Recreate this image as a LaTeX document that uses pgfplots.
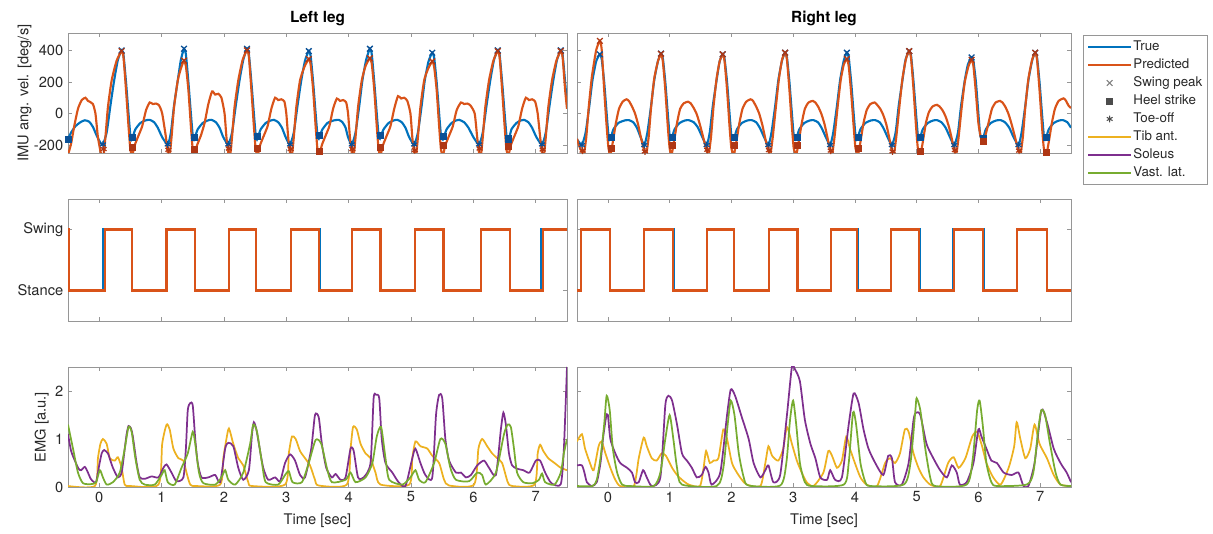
\documentclass[border=0pt]{standalone}
\usepackage{fontspec}
\setmainfont{TeX Gyre Heros}
\usepackage{pgfplots}
\pgfplotsset{compat=1.18}
\definecolor{cTrue}{RGB}{0,114,189}
\definecolor{cPred}{RGB}{217,83,25}
\definecolor{cTib}{RGB}{237,177,32}
\definecolor{cSol}{RGB}{126,47,142}
\definecolor{cVas}{RGB}{119,172,48}
\definecolor{mTrue}{RGB}{10,80,150}
\definecolor{mPred}{RGB}{175,55,20}
\definecolor{frame}{RGB}{150,150,150}
\definecolor{txt}{RGB}{40,40,40}
\pgfplotsset{
  panel/.style={
    scale only axis, anchor=south west,
    xmin=-0.5, xmax=7.5, xtick={0,...,7},
    axis line style={frame, line width=0.5pt},
    tick style={frame, line width=0.5pt},
    major tick length=3pt,
    tick align=inside,
    ticklabel style={font=\fontsize{11}{13}\selectfont, text=txt},
    label style={font=\fontsize{11}{13}\selectfont, text=txt},
    xlabel style={yshift=-2pt},
    title style={font=\fontsize{11.5}{13}\selectfont\bfseries, text=black, yshift=-4pt},
    /pgf/number format/assume math mode=true,
  },
  tline/.style={cTrue, line width=1.6pt, smooth, tension=0.35, forget plot},
  pline/.style={cPred, line width=1.6pt, smooth, tension=0.35, forget plot},
  sline/.style={line width=1.6pt, const plot, forget plot},
  eline/.style={line width=1.3pt, smooth, tension=0.4, forget plot},
  mx/.style={only marks, mark=x, mark size=3pt, mark options={line width=1pt}, forget plot},
  msq/.style={only marks, mark=square*, mark size=2.3pt, forget plot},
  mst/.style={only marks, mark=asterisk, mark size=2.6pt, mark options={line width=0.9pt}, forget plot},
}
\begin{document}
\begin{tikzpicture}
\useasboundingbox (0,0) rectangle (909.75pt,400.5pt);
% ---------------- top left
\begin{axis}[panel, at={(51pt,285.75pt)}, width=374.25pt, height=90pt,
  ymin=-250, ymax=510, ytick={-200,0,200,400}, xticklabels={},
  ylabel={IMU ang. vel. [deg/s]}, ylabel style={at={(ticklabel cs:0.5,-5pt)}}, title={Left leg}]
\addplot[tline] coordinates {
(-0.5,-162) (-0.45,-120) (-0.38,-80) (-0.30,-55) (-0.23,-43) (-0.16,-52) (-0.10,-85) (-0.04,-140) (0.02,-185) (0.06,-196)
(0.12,-120) (0.18,50) (0.24,210) (0.30,340) (0.36,400) (0.39,370) (0.43,200) (0.47,0) (0.50,-140) (0.52,-165) (0.54,-145) (0.58,-100) (0.66,-60) (0.74,-44) (0.81,-40) (0.88,-55) (0.94,-90) (1.01,-150) (1.10,-196)
(1.15,-120) (1.20,50) (1.26,210) (1.31,340) (1.36,410) (1.39,375) (1.43,200) (1.47,0) (1.50,-140) (1.52,-165) (1.54,-145) (1.58,-100) (1.66,-60) (1.74,-44) (1.80,-40) (1.87,-55) (1.93,-90) (1.99,-150) (2.07,-196)
(2.13,-120) (2.19,50) (2.25,210) (2.31,340) (2.37,410) (2.40,375) (2.44,200) (2.48,0) (2.51,-140) (2.53,-165) (2.55,-145) (2.59,-100) (2.67,-60) (2.75,-44) (2.80,-40) (2.87,-55) (2.93,-90) (2.99,-150) (3.06,-196)
(3.12,-120) (3.18,50) (3.24,210) (3.30,335) (3.36,395) (3.39,365) (3.43,200) (3.47,0) (3.50,-140) (3.52,-160) (3.54,-138) (3.58,-100) (3.66,-60) (3.76,-44) (3.84,-40) (3.90,-55) (3.95,-90) (3.99,-150) (4.05,-196)
(4.11,-120) (4.17,50) (4.22,210) (4.28,340) (4.34,410) (4.37,375) (4.41,200) (4.45,0) (4.48,-140) (4.50,-160) (4.52,-138) (4.56,-100) (4.64,-60) (4.72,-44) (4.78,-40) (4.85,-55) (4.91,-90) (4.97,-150) (5.05,-196)
(5.11,-120) (5.17,50) (5.22,210) (5.28,330) (5.34,385) (5.37,355) (5.41,200) (5.45,0) (5.48,-140) (5.51,-165) (5.53,-145) (5.57,-100) (5.65,-60) (5.72,-44) (5.77,-40) (5.85,-55) (5.92,-90) (6.00,-150) (6.09,-196)
(6.15,-120) (6.21,50) (6.27,210) (6.33,340) (6.39,400) (6.42,370) (6.46,200) (6.50,0) (6.53,-140) (6.55,-165) (6.57,-160) (6.61,-100) (6.69,-60) (6.76,-44) (6.81,-40) (6.88,-55) (6.94,-90) (7.01,-150) (7.10,-196)
(7.16,-120) (7.22,50) (7.28,210) (7.34,340) (7.40,400) (7.43,370) (7.47,200) (7.50,60)
};
\addplot[pline] coordinates {
(-0.5,-262) (-0.45,-190) (-0.40,-80) (-0.34,30) (-0.28,85) (-0.22,100) (-0.18,80) (-0.14,72) (-0.10,60) (-0.06,0) (-0.02,-150) (0.03,-255) (0.07,-265) (0.10,-150) (0.14,40) (0.20,210) (0.28,335) (0.36,395)
(0.39,355) (0.43,150) (0.47,-80) (0.50,-230) (0.53,-265) (0.57,-200) (0.63,-140) (0.69,-80) (0.75,20) (0.81,70) (0.86,60) (0.91,63) (0.96,52) (1.01,0) (1.07,-150) (1.10,-250) (1.13,-265) (1.16,-150) (1.20,40) (1.26,210) (1.31,285) (1.36,335)
(1.39,300) (1.43,150) (1.47,-80) (1.50,-230) (1.53,-265) (1.57,-200) (1.63,-140) (1.69,-60) (1.75,60) (1.81,140) (1.86,120) (1.91,125) (1.96,100) (2.01,0) (2.04,-150) (2.07,-250) (2.10,-265) (2.13,-150) (2.17,40) (2.23,210) (2.30,340) (2.37,400)
(2.40,360) (2.44,150) (2.48,-80) (2.51,-230) (2.54,-265) (2.58,-200) (2.64,-140) (2.70,-80) (2.76,30) (2.82,100) (2.87,85) (2.92,90) (2.97,75) (3.00,0) (3.03,-150) (3.06,-250) (3.09,-265) (3.12,-150) (3.16,40) (3.22,210) (3.29,295) (3.36,345)
(3.39,310) (3.43,150) (3.47,-80) (3.50,-230) (3.53,-265) (3.57,-200) (3.63,-140) (3.69,-80) (3.75,30) (3.81,95) (3.86,80) (3.91,85) (3.96,70) (3.99,0) (4.02,-150) (4.05,-250) (4.08,-265) (4.11,-150) (4.15,40) (4.21,210) (4.27,300) (4.34,350)
(4.37,315) (4.41,150) (4.45,-80) (4.48,-230) (4.51,-265) (4.55,-200) (4.61,-140) (4.67,-80) (4.73,30) (4.79,110) (4.84,95) (4.89,100) (4.94,80) (4.99,0) (5.02,-150) (5.05,-250) (5.08,-265) (5.11,-150) (5.15,40) (5.21,210) (5.27,280) (5.34,330)
(5.37,295) (5.41,150) (5.45,-80) (5.48,-230) (5.51,-265) (5.55,-200) (5.61,-140) (5.67,-80) (5.73,20) (5.80,70) (5.85,60) (5.90,63) (5.95,52) (6.02,0) (6.06,-150) (6.09,-250) (6.12,-265) (6.15,-150) (6.19,40) (6.25,210) (6.32,335) (6.39,395)
(6.42,355) (6.46,150) (6.50,-80) (6.53,-230) (6.56,-265) (6.60,-200) (6.66,-140) (6.72,-80) (6.78,30) (6.84,100) (6.89,85) (6.94,90) (6.99,75) (7.03,0) (7.07,-150) (7.10,-250) (7.13,-265) (7.16,-150) (7.20,40) (7.26,210) (7.33,335) (7.40,395)
(7.43,355) (7.47,150) (7.50,30)
};
\addplot[mx, mTrue] coordinates {(0.36,400) (1.36,410) (2.37,410) (3.36,395) (4.34,410) (5.34,385) (6.39,400) (7.40,400)};
\addplot[mx, mPred] coordinates {(0.36,395) (1.36,335) (2.37,400) (3.36,345) (4.34,350) (5.34,330) (6.39,395) (7.40,395)};
\addplot[msq, mTrue] coordinates {(-0.49,-162) (0.53,-150) (1.53,-150) (2.54,-145) (3.53,-138) (4.51,-140) (5.52,-145) (6.56,-160)};
\addplot[msq, mPred] coordinates {(0.53,-212) (1.53,-228) (2.54,-218) (3.53,-240) (4.51,-215) (5.52,-202) (6.56,-207)};
\addplot[mst, mTrue] coordinates {(0.06,-196) (1.10,-196) (2.07,-196) (3.06,-196) (4.05,-196) (5.05,-196) (6.09,-196) (7.10,-196)};
\addplot[mst, mPred] coordinates {(0.07,-225) (1.11,-230) (2.08,-222) (3.07,-225) (4.06,-225) (5.06,-232) (6.10,-222) (7.11,-228)};
\end{axis}
% ---------------- top right
\begin{axis}[panel, at={(432.75pt,285.75pt)}, width=370.5pt, height=90pt,
  ymin=-250, ymax=510, ytick={-200,0,200,400}, xticklabels={}, yticklabels={},
  title={Right leg},
  legend style={at={(1.0243,0.983)}, anchor=north west, draw=frame, fill=white,
    font=\fontsize{10}{12}\selectfont, text=txt, cells={anchor=west},
    nodes={inner sep=1pt, text height=7.5pt, text depth=2pt},
    row sep=2pt, inner xsep=3pt, inner ysep=3pt},
  legend image code/.code={\draw[mark repeat=2,mark phase=2,#1] plot coordinates {(0pt,0pt) (16pt,0pt) (32pt,0pt)};}]
\addplot[tline] coordinates {
(-0.5,-164) (-0.46,-185) (-0.42,-200)
(-0.36,-120) (-0.30,50) (-0.25,210) (-0.19,330) (-0.13,375) (-0.10,345) (-0.06,200) (-0.02,0) (0.01,-140) (0.03,-165) (0.05,-150) (0.09,-100) (0.17,-60) (0.27,-44) (0.34,-42) (0.41,-55) (0.47,-90) (0.53,-150) (0.59,-200)
(0.64,-120) (0.70,50) (0.75,210) (0.81,330) (0.86,380) (0.89,350) (0.93,200) (0.97,0) (1.00,-140) (1.02,-165) (1.04,-150) (1.08,-100) (1.16,-60) (1.25,-44) (1.31,-42) (1.39,-55) (1.46,-90) (1.53,-150) (1.60,-200)
(1.65,-120) (1.70,50) (1.76,210) (1.81,330) (1.86,375) (1.89,345) (1.93,200) (1.97,0) (2.00,-140) (2.03,-165) (2.05,-150) (2.09,-100) (2.17,-60) (2.26,-44) (2.33,-42) (2.40,-55) (2.46,-90) (2.53,-150) (2.60,-200)
(2.65,-120) (2.71,50) (2.76,210) (2.82,335) (2.87,385) (2.90,355) (2.94,200) (2.98,0) (3.01,-140) (3.04,-165) (3.06,-150) (3.10,-100) (3.18,-60) (3.27,-44) (3.33,-42) (3.40,-55) (3.46,-90) (3.53,-150) (3.60,-200)
(3.65,-120) (3.71,50) (3.76,210) (3.82,335) (3.87,385) (3.90,355) (3.94,200) (3.98,0) (4.01,-140) (4.03,-165) (4.05,-150) (4.09,-100) (4.17,-60) (4.26,-44) (4.33,-42) (4.40,-55) (4.46,-90) (4.53,-150) (4.60,-200)
(4.66,-120) (4.71,50) (4.77,210) (4.82,340) (4.88,395) (4.91,365) (4.95,200) (4.99,0) (5.02,-140) (5.04,-165) (5.06,-150) (5.10,-100) (5.18,-60) (5.27,-44) (5.33,-42) (5.40,-55) (5.47,-90) (5.54,-150) (5.61,-200)
(5.67,-120) (5.72,50) (5.78,210) (5.83,310) (5.89,355) (5.92,330) (5.96,200) (6.00,0) (6.03,-140) (6.06,-165) (6.08,-155) (6.12,-100) (6.20,-60) (6.29,-44) (6.36,-42) (6.43,-55) (6.50,-90) (6.57,-150) (6.65,-200)
(6.70,-120) (6.76,50) (6.81,210) (6.87,335) (6.92,385) (6.95,355) (6.99,200) (7.03,0) (7.06,-140) (7.08,-165) (7.10,-150) (7.14,-100) (7.22,-60) (7.31,-44) (7.37,-42) (7.44,-55) (7.50,-90)
};
\addplot[pline] coordinates {
(-0.5,-160) (-0.46,-210) (-0.42,-245) (-0.39,-262) (-0.35,-150) (-0.31,40) (-0.26,230) (-0.19,400) (-0.13,460) (-0.10,405) (-0.06,150) (-0.02,-80) (0.01,-220) (0.04,-262) (0.08,-180) (0.13,-60) (0.18,30) (0.24,75) (0.30,90) (0.34,80) (0.39,45) (0.44,0) (0.49,-70) (0.54,-160) (0.59,-240)
(0.62,-262) (0.66,-150) (0.70,40) (0.75,220) (0.81,330) (0.86,375) (0.89,330) (0.93,150) (0.97,-80) (1.00,-220) (1.03,-262) (1.07,-180) (1.12,-60) (1.17,30) (1.23,65) (1.30,75) (1.34,65) (1.39,35) (1.44,-5) (1.49,-70) (1.55,-160) (1.60,-240)
(1.63,-262) (1.67,-150) (1.71,40) (1.76,220) (1.81,330) (1.86,375) (1.89,330) (1.93,150) (1.97,-80) (2.00,-220) (2.04,-262) (2.08,-180) (2.13,-60) (2.18,30) (2.24,75) (2.31,90) (2.35,80) (2.40,45) (2.45,0) (2.50,-70) (2.55,-160) (2.60,-240)
(2.63,-262) (2.67,-150) (2.72,40) (2.77,220) (2.82,340) (2.87,385) (2.90,340) (2.94,150) (2.98,-80) (3.01,-220) (3.05,-262) (3.09,-180) (3.14,-60) (3.19,30) (3.25,70) (3.32,80) (3.36,70) (3.41,40) (3.46,-5) (3.51,-70) (3.56,-160) (3.60,-240)
(3.63,-262) (3.67,-150) (3.72,40) (3.77,210) (3.82,310) (3.87,345) (3.90,300) (3.94,130) (3.98,-80) (4.01,-220) (4.05,-262) (4.09,-180) (4.14,-60) (4.19,20) (4.25,60) (4.32,70) (4.36,55) (4.41,30) (4.46,-10) (4.51,-70) (4.56,-160) (4.60,-240)
(4.63,-262) (4.67,-150) (4.72,40) (4.77,220) (4.83,350) (4.88,395) (4.91,350) (4.95,150) (4.99,-80) (5.02,-220) (5.06,-262) (5.10,-180) (5.15,-60) (5.20,10) (5.26,45) (5.33,55) (5.37,45) (5.42,20) (5.47,-20) (5.52,-80) (5.57,-160) (5.61,-240)
(5.64,-262) (5.68,-150) (5.73,40) (5.78,200) (5.84,300) (5.89,340) (5.92,300) (5.96,130) (6.00,-60) (6.04,-150) (6.08,-170) (6.12,-130) (6.17,-50) (6.22,30) (6.28,70) (6.35,80) (6.39,70) (6.44,40) (6.49,-5) (6.54,-70) (6.60,-160) (6.65,-240)
(6.68,-262) (6.72,-150) (6.76,40) (6.81,220) (6.87,340) (6.92,385) (6.95,340) (6.99,150) (7.03,-80) (7.06,-220) (7.10,-262) (7.14,-180) (7.19,-60) (7.24,30) (7.30,80) (7.38,96) (7.42,80) (7.46,50) (7.50,35)
};
\addplot[mx, mTrue] coordinates {(-0.13,375) (0.86,380) (1.86,375) (2.87,385) (3.87,385) (4.88,395) (5.89,355) (6.92,385)};
\addplot[mx, mPred] coordinates {(-0.13,460) (0.86,378) (1.86,375) (2.87,385) (3.87,345) (4.88,395) (5.89,340) (6.92,385)};
\addplot[msq, mTrue] coordinates {(0.05,-150) (1.04,-150) (2.05,-150) (3.06,-150) (4.05,-150) (5.06,-150) (6.08,-155) (7.10,-150)};
\addplot[msq, mPred] coordinates {(0.05,-220) (1.04,-200) (2.05,-200) (3.06,-200) (4.05,-220) (5.06,-240) (6.08,-175) (7.10,-245)};
\addplot[mst, mTrue] coordinates {(-0.42,-200) (0.59,-200) (1.60,-200) (2.60,-200) (3.60,-200) (4.60,-200) (5.61,-200) (6.65,-200)};
\addplot[mst, mPred] coordinates {(-0.41,-235) (0.60,-240) (1.61,-230) (2.61,-232) (3.61,-235) (4.61,-240) (5.62,-232) (6.66,-235)};
\addlegendimage{cTrue, line width=1.6pt}
\addlegendentry{True}
\addlegendimage{cPred, line width=1.6pt}
\addlegendentry{Predicted}
\addlegendimage{only marks, mark=x, mark size=3pt, black!50, mark options={line width=0.8pt}}
\addlegendentry{Swing peak}
\addlegendimage{only marks, mark=square*, mark size=2.2pt, black!70}
\addlegendentry{Heel strike}
\addlegendimage{only marks, mark=asterisk, mark size=2.5pt, black!70, mark options={line width=0.8pt}}
\addlegendentry{Toe-off}
\addlegendimage{cTib, line width=1.6pt}
\addlegendentry{Tib ant.}
\addlegendimage{cSol, line width=1.6pt}
\addlegendentry{Soleus}
\addlegendimage{cVas, line width=1.6pt}
\addlegendentry{Vast. lat.}
\end{axis}
% ---------------- middle left
\begin{axis}[panel, at={(51pt,159.75pt)}, width=374.25pt, height=91.5pt,
  ymin=-0.5, ymax=1.5, ytick={0,1}, yticklabels={Stance,Swing}, xticklabels={}]
\addplot[sline, cTrue] coordinates {(-0.5,0) (0.065,1) (0.53,0) (1.08,1) (1.53,0) (2.08,1) (2.52,0) (3.08,1) (3.545,0) (4.06,1) (4.51,0) (5.07,1) (5.52,0) (6.12,1) (6.58,0) (7.09,1) (7.5,1)};
\addplot[sline, cPred] coordinates {(-0.5,1) (-0.49,0) (0.10,1) (0.53,0) (1.08,1) (1.53,0) (2.08,1) (2.52,0) (3.08,1) (3.52,0) (4.06,1) (4.51,0) (5.07,1) (5.52,0) (6.12,1) (6.58,0) (7.11,1) (7.5,1)};
\end{axis}
% ---------------- middle right
\begin{axis}[panel, at={(432.75pt,159.75pt)}, width=370.5pt, height=91.5pt,
  ymin=-0.5, ymax=1.5, ytick={0,1}, yticklabels={}, xticklabels={}]
\addplot[sline, cTrue] coordinates {(-0.5,0) (-0.435,1) (0.04,0) (0.58,1) (1.062,0) (1.61,1) (2.04,0) (2.61,1) (3.085,0) (3.61,1) (4.055,0) (4.59,1) (5.055,0) (5.59,1) (6.095,0) (6.62,1) (7.11,0) (7.5,0)};
\addplot[sline, cPred] coordinates {(-0.5,0) (-0.435,1) (0.04,0) (0.58,1) (1.05,0) (1.61,1) (2.04,0) (2.61,1) (3.07,0) (3.61,1) (4.04,0) (4.59,1) (5.04,0) (5.60,1) (6.08,0) (6.62,1) (7.11,0) (7.5,0)};
\end{axis}
% ---------------- bottom left
\begin{axis}[panel, at={(51pt,35.25pt)}, width=374.25pt, height=90pt,
  ymin=0, ymax=2.5, ytick={0,1,2}, xlabel={Time [sec]}, ylabel={EMG [a.u.]}, ylabel style={at={(ticklabel cs:0.5,-2pt)}}]
\addplot[eline, cTib] coordinates {
(-0.5,0.02) (-0.07,0.02) (-0.02,0.6) (0.02,0.9) (0.06,1.0) (0.12,0.9) (0.17,0.6) (0.25,0.55) (0.3,0.62) (0.36,0.4) (0.41,0.05) (0.5,0.02) (0.95,0.05)
(1.01,0.9) (1.08,1.3) (1.13,1.2) (1.19,0.8) (1.27,0.6) (1.35,0.55) (1.4,0.3) (1.46,0.05) (1.55,0.02) (1.94,0.05)
(1.99,0.6) (2.04,1.0) (2.08,1.22) (2.15,0.9) (2.23,0.6) (2.31,0.45) (2.39,0.1) (2.45,0.02) (2.98,0.05)
(3.04,0.7) (3.09,1.05) (3.15,1.0) (3.22,0.75) (3.3,0.6) (3.38,0.45) (3.46,0.15) (3.52,0.03) (3.97,0.05)
(4.03,0.8) (4.07,1.25) (4.13,1.2) (4.19,0.9) (4.27,0.7) (4.35,0.6) (4.43,0.3) (4.51,0.05) (4.97,0.05)
(5.02,0.6) (5.07,0.95) (5.15,0.85) (5.26,0.8) (5.34,0.65) (5.45,0.5) (5.53,0.15) (5.61,0.03) (6.01,0.05)
(6.08,0.8) (6.14,1.0) (6.22,0.85) (6.3,0.7) (6.38,0.6) (6.46,0.5) (6.55,0.1) (6.62,0.02) (6.98,0.05)
(7.03,0.7) (7.07,0.88) (7.12,0.75) (7.2,0.6) (7.3,0.5) (7.4,0.4) (7.5,0.35)
};
\addplot[eline, cSol] coordinates {
(-0.5,1.1) (-0.45,0.75) (-0.39,0.55) (-0.33,0.38) (-0.29,0.35) (-0.23,0.42) (-0.18,0.3) (-0.14,0.18) (-0.1,0.12) (-0.05,0.1) (0.0,0.45) (0.04,0.7) (0.08,0.77) (0.14,0.7) (0.18,0.55) (0.22,0.4) (0.3,0.2) (0.36,0.3) (0.41,0.8) (0.44,1.1) (0.47,1.27) (0.51,1.22) (0.54,1.05) (0.6,0.5) (0.65,0.2) (0.73,0.17) (0.84,0.22) (0.95,0.2)
(1.03,0.4) (1.08,0.47) (1.16,0.3) (1.24,0.12) (1.35,0.2) (1.39,0.8) (1.42,1.6) (1.46,1.75) (1.5,1.7) (1.54,1.0) (1.58,0.5) (1.64,0.2) (1.75,0.2) (1.86,0.25) (1.94,0.1)
(2.02,0.8) (2.07,0.92) (2.15,0.85) (2.23,0.4) (2.31,0.15) (2.4,0.35) (2.45,1.1) (2.48,1.35) (2.52,1.2) (2.56,0.9) (2.63,0.4) (2.71,0.15) (2.82,0.2) (2.9,0.12)
(2.98,0.5) (3.06,0.68) (3.14,0.55) (3.22,0.25) (3.3,0.2) (3.4,0.8) (3.46,1.5) (3.52,1.45) (3.57,0.9) (3.64,0.4) (3.73,0.2) (3.79,0.27) (3.87,0.15) (3.95,0.2)
(4.03,0.8) (4.08,0.75) (4.15,0.2) (4.24,0.2) (4.35,0.5) (4.4,1.85) (4.44,1.92) (4.49,1.85) (4.53,1.0) (4.59,0.5) (4.7,0.3) (4.8,0.1) (4.91,0.02)
(5.02,0.6) (5.07,0.8) (5.15,0.5) (5.23,0.25) (5.34,0.2) (5.4,1.5) (5.45,1.92) (5.5,1.85) (5.55,1.0) (5.61,0.55) (5.72,0.3) (5.8,0.3) (5.88,0.2) (5.96,0.25)
(6.06,0.45) (6.17,0.55) (6.25,0.4) (6.36,0.25) (6.44,1.2) (6.48,1.55) (6.52,1.3) (6.57,0.7) (6.62,0.45) (6.7,0.38) (6.8,0.35) (6.9,0.3)
(7.0,0.55) (7.07,0.55) (7.15,0.3) (7.25,0.08) (7.4,0.06) (7.45,0.8) (7.5,2.5)
};
\addplot[eline, cVas] coordinates {
(-0.5,1.3) (-0.42,0.8) (-0.34,0.3) (-0.26,0.08) (-0.13,0.06) (-0.05,0.1) (0.01,0.35) (0.06,0.2) (0.12,0.05) (0.22,0.1) (0.33,0.3) (0.41,0.8) (0.47,1.25) (0.52,1.15) (0.58,0.6) (0.65,0.15) (0.73,0.05) (0.89,0.05)
(1.0,0.25) (1.05,0.35) (1.1,0.1) (1.21,0.05) (1.32,0.4) (1.42,0.7) (1.5,1.15) (1.54,0.9) (1.6,0.3) (1.67,0.08) (1.86,0.05)
(1.96,0.2) (2.02,0.35) (2.07,0.15) (2.18,0.05) (2.31,0.3) (2.42,0.9) (2.47,1.3) (2.53,1.15) (2.61,0.5) (2.67,0.1) (2.87,0.05)
(2.98,0.25) (3.04,0.33) (3.1,0.1) (3.25,0.1) (3.36,0.5) (3.47,0.98) (3.56,0.9) (3.65,0.4) (3.73,0.1) (3.95,0.15)
(4.03,0.3) (4.11,0.1) (4.27,0.2) (4.38,0.5) (4.45,1.05) (4.52,1.25) (4.59,0.6) (4.65,0.15) (4.86,0.05)
(4.99,0.2) (5.07,0.35) (5.13,0.15) (5.23,0.1) (5.37,0.5) (5.47,1.0) (5.55,0.9) (5.63,0.4) (5.72,0.15) (5.93,0.12)
(6.06,0.3) (6.14,0.25) (6.2,0.05) (6.36,0.3) (6.49,1.1) (6.55,1.3) (6.6,1.25) (6.65,0.8) (6.7,0.3) (6.8,0.1) (6.95,0.08)
(7.05,0.15) (7.1,0.28) (7.15,0.1) (7.3,0.05) (7.4,0.3) (7.45,0.7) (7.5,1.0)
};
\end{axis}
% ---------------- bottom right
\begin{axis}[panel, at={(432.75pt,35.25pt)}, width=370.5pt, height=90pt,
  ymin=0, ymax=2.5, ytick={0,1,2}, yticklabels={}, xlabel={Time [sec]}]
\addplot[eline, cTib] coordinates {
(-0.5,0.95) (-0.42,1.1) (-0.37,0.8) (-0.29,0.5) (-0.23,0.35) (-0.15,0.85) (-0.1,0.95) (-0.04,0.7) (0.04,0.4) (0.12,0.15) (0.2,0.02) (0.42,0.02)
(0.5,0.6) (0.58,1.03) (0.63,0.85) (0.71,0.6) (0.79,0.55) (0.87,0.7) (0.94,0.65) (1.04,0.4) (1.12,0.25) (1.2,0.15) (1.31,0.05) (1.49,0.02)
(1.55,0.4) (1.59,0.75) (1.65,0.5) (1.71,0.55) (1.79,0.6) (1.87,1.2) (1.93,1.0) (2.01,0.5) (2.09,0.3) (2.17,0.15) (2.25,0.05) (2.47,0.02)
(2.55,0.5) (2.6,0.85) (2.66,0.65) (2.76,0.55) (2.84,0.8) (2.9,1.25) (2.98,0.9) (3.06,0.55) (3.14,0.3) (3.22,0.1) (3.33,0.02)
(3.49,0.3) (3.57,0.75) (3.63,0.65) (3.71,0.4) (3.79,0.55) (3.86,1.05) (3.92,0.8) (4.0,0.5) (4.09,0.2) (4.19,0.05) (4.36,0.02)
(4.49,0.5) (4.57,0.6) (4.65,0.5) (4.73,0.7) (4.81,1.2) (4.87,1.15) (4.95,0.7) (5.03,0.4) (5.11,0.2) (5.22,0.05) (5.38,0.02)
(5.51,0.5) (5.6,0.62) (5.68,0.4) (5.79,0.6) (5.9,1.05) (5.98,1.15) (6.06,0.85) (6.13,0.5) (6.24,0.2) (6.36,0.05)
(6.49,0.4) (6.58,0.85) (6.62,1.35) (6.68,1.0) (6.76,0.6) (6.84,0.8) (6.91,1.3) (6.99,0.9) (7.11,0.6) (7.22,0.25) (7.33,0.05) (7.5,0.02)
};
\addplot[eline, cSol] coordinates {
(-0.5,0.45) (-0.42,0.45) (-0.38,0.3) (-0.34,0.1) (-0.26,0.02) (-0.18,0.1) (-0.12,0.5) (-0.08,1.0) (-0.03,1.45) (0.0,1.5) (0.04,1.0) (0.12,0.7) (0.2,0.5) (0.31,0.4) (0.39,0.3) (0.44,0.1) (0.5,0.1) (0.57,0.35) (0.63,0.2) (0.71,0.02)
(0.85,0.2) (0.93,1.7) (0.98,1.9) (1.04,1.8) (1.12,1.3) (1.2,0.7) (1.28,0.55) (1.36,0.4) (1.44,0.2) (1.52,0.25) (1.58,0.42) (1.63,0.3) (1.68,0.05)
(1.82,0.3) (1.93,1.5) (1.99,2.03) (2.06,1.9) (2.17,1.45) (2.28,1.0) (2.36,0.5) (2.47,0.2) (2.55,0.35) (2.6,0.45) (2.68,0.1)
(2.79,0.25) (2.9,1.5) (2.98,2.5) (3.03,2.45) (3.11,2.2) (3.19,1.4) (3.28,0.9) (3.36,0.6) (3.44,0.2) (3.55,0.15) (3.6,0.35) (3.68,0.15)
(3.79,0.2) (3.9,1.3) (3.98,1.95) (4.06,1.75) (4.14,1.2) (4.22,0.8) (4.33,0.5) (4.46,0.25) (4.54,0.65) (4.6,0.6) (4.65,0.1) (4.76,0.05)
(4.87,0.5) (4.95,1.4) (4.99,1.55) (5.06,1.5) (5.16,0.9) (5.27,0.6) (5.38,0.35) (5.49,0.2) (5.57,0.45) (5.65,0.3) (5.7,0.05) (5.81,0.1)
(5.92,0.5) (6.0,1.2) (6.05,1.05) (6.13,0.8) (6.21,0.55) (6.3,0.5) (6.41,0.3) (6.54,0.25) (6.65,0.3) (6.73,0.02) (6.81,0.02)
(6.91,0.5) (7.02,1.6) (7.11,1.35) (7.22,0.8) (7.33,0.5) (7.43,0.3) (7.5,0.1)
};
\addplot[eline, cVas] coordinates {
(-0.5,0.02) (-0.25,0.02) (-0.18,0.15) (-0.12,0.6) (-0.06,1.3) (-0.02,1.9) (0.03,1.6) (0.08,0.8) (0.15,0.3) (0.23,0.05) (0.36,0.02) (0.74,0.02)
(0.85,0.3) (0.93,1.0) (1.0,1.5) (1.06,1.0) (1.12,0.4) (1.2,0.05) (1.76,0.02)
(1.87,0.4) (1.94,1.3) (1.99,1.8) (2.05,1.5) (2.12,0.7) (2.2,0.2) (2.28,0.03) (2.79,0.03)
(2.89,0.5) (2.95,1.4) (3.0,1.8) (3.05,1.3) (3.11,0.5) (3.19,0.1) (3.3,0.02) (3.82,0.05)
(3.9,0.5) (3.97,1.55) (4.02,1.3) (4.09,0.5) (4.17,0.1) (4.25,0.02) (4.79,0.05)
(4.9,0.5) (4.98,1.6) (5.0,1.85) (5.06,1.6) (5.14,0.8) (5.22,0.2) (5.3,0.02) (5.81,0.05)
(5.91,0.6) (5.98,1.6) (6.02,1.8) (6.07,1.3) (6.13,0.5) (6.21,0.1) (6.3,0.02) (6.78,0.05)
(6.89,0.3) (6.97,1.2) (7.02,1.6) (7.08,1.5) (7.16,0.9) (7.25,0.3) (7.33,0.05) (7.5,0.02)
};
\end{axis}
\end{tikzpicture}
\end{document}
